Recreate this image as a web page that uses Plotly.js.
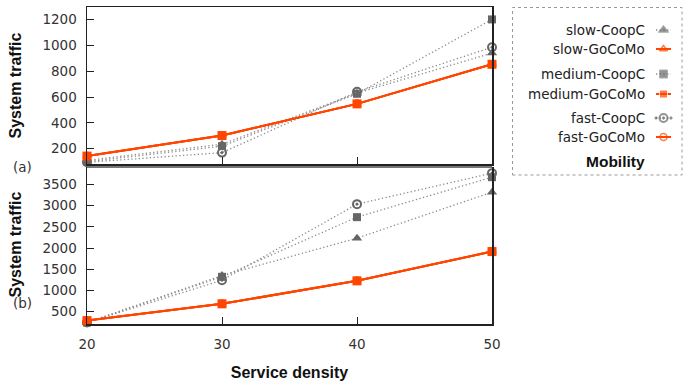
<!DOCTYPE html>
<html>
<head>
<meta charset="utf-8">
<script src="https://cdn.plot.ly/plotly-3.0.1.min.js"></script>
<style>html,body{margin:0;padding:0;background:#fff;}#chart{width:683px;height:381px;}</style>
</head>
<body>
<div id="chart"></div>
<script>
// ---- data ----
const density = [20, 30, 40, 50];
const xTicks = [20, 30, 40, 50];
// panel (a)
const slowCoopC_a   = [110, 235, 630, 940];
const mediumCoopC_a = [100, 220, 625, 1200];
const fastCoopC_a   = [95, 170, 640, 985];
const slowGoCoMo_a   = [143, 302, 547, 853];
const mediumGoCoMo_a = [143, 302, 547, 853];
const fastGoCoMo_a   = [143, 302, 547, 853];
const yTicks_a = [200, 400, 600, 800, 1000, 1200];
// panel (b)
const slowCoopC_b   = [240, 1350, 2234, 3320];
const mediumCoopC_b = [240, 1320, 2730, 3675];
const fastCoopC_b   = [240, 1240, 3037, 3770];
const slowGoCoMo_b   = [285, 682, 1225, 1917];
const mediumGoCoMo_b = [285, 682, 1225, 1917];
const fastGoCoMo_b   = [285, 682, 1225, 1917];
const yTicks_b = [500, 1000, 1500, 2000, 2500, 3000, 3500];
const legendLabels = ['slow-CoopC', 'slow-GoCoMo', 'medium-CoopC', 'medium-GoCoMo', 'fast-CoopC', 'fast-GoCoMo'];
const legendTitle = 'Mobility';

// ---- styles ----
const GRAY = '#666666', DOT = '#8c8c8c', ORANGE = '#ff4500';
const dotLine = {color: DOT, width: 1.3, dash: '1.3px,2.4px'};
const styles = {
  'slow-CoopC':    {line: dotLine, marker:{symbol:'triangle-up', color:GRAY, size:9}},
  'medium-CoopC':  {line: dotLine, marker:{symbol:'square', color:GRAY, size:8}},
  'fast-CoopC':    {line: dotLine, marker:{symbol:'circle-open-dot', color:GRAY, size:8, line:{width:2, color:GRAY}}},
  'slow-GoCoMo':   {line:{color:ORANGE, width:2}, marker:{symbol:'triangle-up-open', color:ORANGE, size:7, line:{width:1.5, color:ORANGE}}},
  'medium-GoCoMo': {line:{color:ORANGE, width:2}, marker:{symbol:'square', color:ORANGE, size:9}},
  'fast-GoCoMo':   {line:{color:ORANGE, width:2}, marker:{symbol:'circle-open', color:ORANGE, size:7, line:{width:1.5, color:ORANGE}}}
};

function tr(name, y, xa, ya) {
  const s = styles[name];
  return {x: density, y: y, name: name, xaxis: xa, yaxis: ya, type: 'scatter', mode: 'lines+markers',
          line: s.line, marker: s.marker, cliponaxis: false, showlegend: false};
}

const traces = [
  tr('slow-CoopC', slowCoopC_a, 'x2', 'y2'),
  tr('medium-CoopC', mediumCoopC_a, 'x2', 'y2'),
  tr('fast-CoopC', fastCoopC_a, 'x2', 'y2'),
  tr('slow-GoCoMo', slowGoCoMo_a, 'x2', 'y2'),
  tr('fast-GoCoMo', fastGoCoMo_a, 'x2', 'y2'),
  tr('medium-GoCoMo', mediumGoCoMo_a, 'x2', 'y2'),
  tr('slow-CoopC', slowCoopC_b, 'x', 'y'),
  tr('medium-CoopC', mediumCoopC_b, 'x', 'y'),
  tr('fast-CoopC', fastCoopC_b, 'x', 'y'),
  tr('slow-GoCoMo', slowGoCoMo_b, 'x', 'y'),
  tr('fast-GoCoMo', fastGoCoMo_b, 'x', 'y'),
  tr('medium-GoCoMo', mediumGoCoMo_b, 'x', 'y')
];

// ---- custom legend (text right-aligned, sample on the right) ----
const legendRowPx = [30, 49, 74, 94, 118, 137]; // pixel rows in the legend box
const legendTitlePx = 161;
legendLabels.forEach((name, i) => {
  const s = styles[name];
  const p = legendRowPx[i];
  const msize = s.marker.symbol === 'square' ? 8 : s.marker.size;
  traces.push({x: [0, 0.5, 1], y: [p, p, p], xaxis: 'x3', yaxis: 'y3', type: 'scatter', mode: 'lines+markers',
    line: s.line, marker: Object.assign({}, s.marker, {size: [0, msize, 0]}),
    cliponaxis: false, showlegend: false, hoverinfo: 'skip'});
});

const W = 683, H = 381, ML = 87, MT = 7, MB = 57;
const PW = W - ML, PH = H - MT - MB;
const px2x = px => (px - ML) / PW;
const px2y = py => (H - MB - py) / PH;

const tickFont = {family: 'DejaVu Sans', size: 13.5, color: '#333'};
const titleFont = {family: 'Liberation Sans', size: 16, color: '#111', weight: 'bold'};
const legFont = {family: 'DejaVu Sans', size: 13.5, color: '#222'};

const annotations = [
  {text: '<b>System traffic</b>', xref: 'paper', yref: 'paper', x: px2x(15), y: px2y(85.5), textangle: -90, showarrow: false, font: titleFont, xanchor: 'center', yanchor: 'middle'},
  {text: '<b>System traffic</b>', xref: 'paper', yref: 'paper', x: px2x(15), y: px2y(244.5), textangle: -90, showarrow: false, font: titleFont, xanchor: 'center', yanchor: 'middle'},
  {text: '(a)', xref: 'paper', yref: 'paper', x: px2x(22.5), y: px2y(167), showarrow: false, font: tickFont, xanchor: 'center', yanchor: 'middle'},
  {text: '(b)', xref: 'paper', yref: 'paper', x: px2x(22.5), y: px2y(303), showarrow: false, font: tickFont, xanchor: 'center', yanchor: 'middle'}
];
legendLabels.forEach((name, i) => {
  annotations.push({text: name, xref: 'paper', yref: 'y3', x: px2x(647), y: legendRowPx[i], xanchor: 'right', yanchor: 'middle', showarrow: false, font: legFont});
});
annotations.push({text: '<b>' + legendTitle + '</b>', xref: 'paper', yref: 'y3', x: px2x(647), y: legendTitlePx, xanchor: 'right', yanchor: 'middle', showarrow: false, font: {family: 'Liberation Sans', size: 15.5, color: '#111'}});

const mainDom = [0, px2x(492)];
const axCommon = {showgrid: false, zeroline: false, showline: true, linecolor: '#222', linewidth: 1.5,
  ticks: 'inside', ticklen: 7, tickcolor: '#222', tickwidth: 1, tickfont: tickFont, fixedrange: true};

const layout = {
  width: W, height: H,
  margin: {l: ML, r: 0, t: MT, b: MB, pad: 0},
  paper_bgcolor: '#fff', plot_bgcolor: '#fff',
  showlegend: false,
  xaxis: Object.assign({}, axCommon, {domain: mainDom, anchor: 'y', range: [20, 50], tickvals: xTicks, mirror: false,
    ticklabelstandoff: 7,
    title: {text: '<b>Service density</b>', font: titleFont, standoff: 17}}),
  yaxis: Object.assign({}, axCommon, {domain: [0, px2y(167)], anchor: 'x', range: [205, 3915], tickvals: yTicks_b, mirror: true, ticklabelstandoff: 6}),
  xaxis2: Object.assign({}, axCommon, {domain: mainDom, anchor: 'y2', range: [20, 50], tickvals: xTicks, showticklabels: false, mirror: true}),
  yaxis2: Object.assign({}, axCommon, {domain: [px2y(164), 1], anchor: 'x2', range: [82, 1296], tickvals: yTicks_a, mirror: true, ticklabelstandoff: 6}),
  xaxis3: {domain: [px2x(656), px2x(671)], anchor: 'y3', range: [0, 1], visible: false, fixedrange: true},
  yaxis3: {domain: [0, 1], anchor: 'x3', range: [H - MB, MT], visible: false, fixedrange: true},
  shapes: [
    {type: 'line', xref: 'x domain', yref: 'y domain', x0: 0, x1: 1, y0: 1, y1: 1, line: {color: '#777', width: 2}},
    {type: 'rect', xref: 'paper', yref: 'paper', x0: px2x(512.5), x1: px2x(682), y0: px2y(175), y1: px2y(7.5),
     line: {color: '#999', width: 1, dash: 'dot'}, fillcolor: 'rgba(0,0,0,0)'}
  ],
  annotations: annotations
};

Plotly.newPlot('chart', traces, layout, {staticPlot: true, displayModeBar: false});
</script>
</body>
</html>
